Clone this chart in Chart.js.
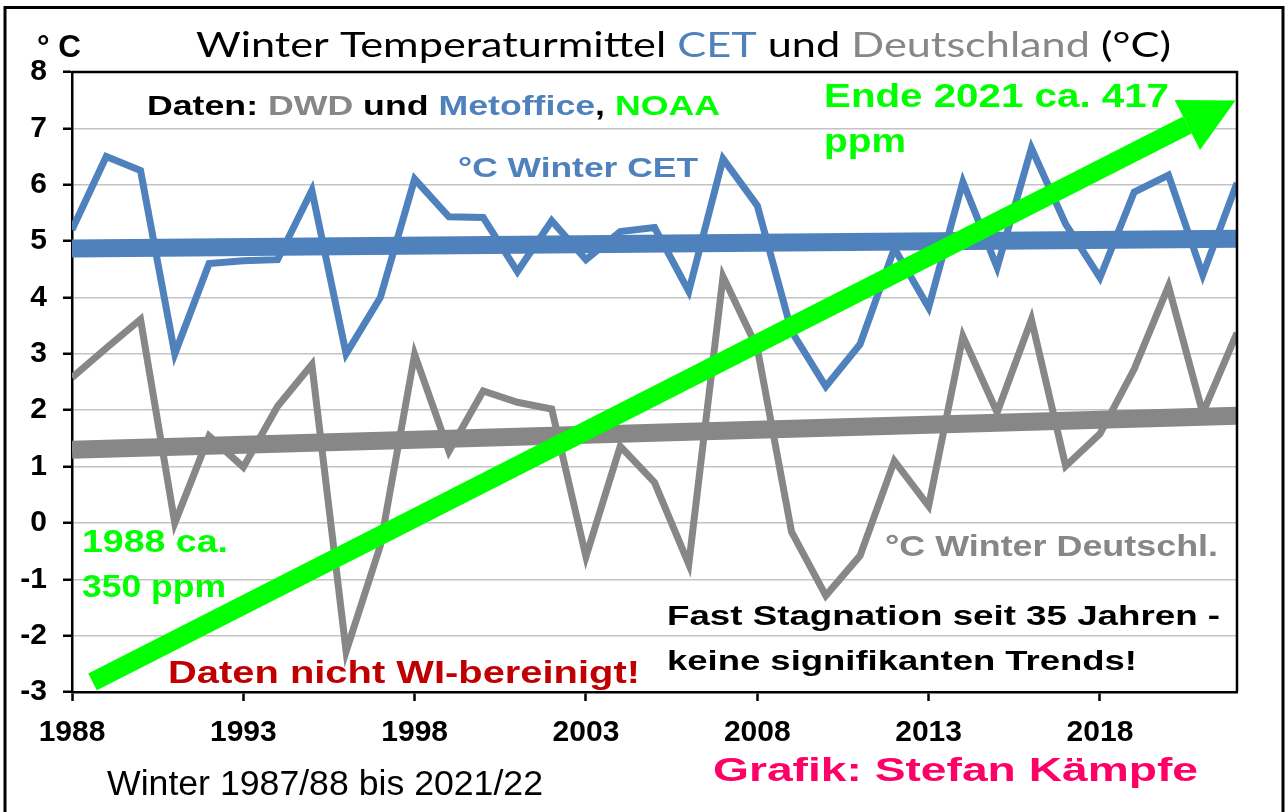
<!DOCTYPE html>
<html>
<head>
<meta charset="utf-8">
<script src="https://cdn.jsdelivr.net/npm/chart.js@4/dist/chart.umd.min.js"></script>
<style>
  html, body { margin: 0; padding: 0; background: #fff; }
  #wrap { width: 1288px; height: 812px; position: relative; }
</style>
</head>
<body>
<div id="wrap"><canvas id="chart"></canvas></div>
<script>
// Winter (DJF) Mittel, Jahr = Januar des Winters
const years = [1988, 1989, 1990, 1991, 1992, 1993, 1994, 1995, 1996, 1997,
  1998, 1999, 2000, 2001, 2002, 2003, 2004, 2005, 2006, 2007,
  2008, 2009, 2010, 2011, 2012, 2013, 2014, 2015, 2016, 2017,
  2018, 2019, 2020, 2021, 2022];
const cetWinter = [5.2, 6.5, 6.25, 3.0, 4.6, 4.65, 4.67, 5.9, 3.0, 4.0,
  6.1, 5.43, 5.42, 4.46, 5.36, 4.67, 5.17, 5.24, 4.11, 6.46,
  5.63, 3.4, 2.42, 3.17, 4.87, 3.82, 6.05, 4.53, 6.65, 5.3,
  4.35, 5.87, 6.17, 4.4, 6.03];
const dwdWinter = [2.58, 3.1, 3.61, 0.0, 1.54, 0.99, 2.07, 2.81, -2.28, -0.4,
  2.99, 1.27, 2.34, 2.14, 2.02, -0.6, 1.36, 0.72, -0.73, 4.37,
  3.1, -0.16, -1.29, -0.58, 1.1, 0.3, 3.31, 1.96, 3.61, 1.01,
  1.58, 2.73, 4.2, 1.95, 3.37];

// lineare Trends (Endpunkte)
const trendYears = [1988, 2022];
const cetTrend = [4.87, 5.04];
const dwdTrend = [1.3, 1.9];

// CO2-Pfeil (Schaft von / bis, in Achsenwerten)
const arrowYears = [1988.6, 2020.55];
const arrowVals = [-2.82, 7.06];

const xTickLabels = [1988, 1993, 1998, 2003, 2008, 2013, 2018];
const yMin = -3, yMax = 8;

const BLUE = '#4F81BD';
const GRAY = '#878787';
const GREEN = '#00FF00';
const ARIAL = '"Liberation Sans", Arial, sans-serif';

const pts = (xs, ys) => xs.map((x, i) => ({ x: x, y: ys[i] }));

// Text mit mehreren Farben, horizontal auf Zielbreite gestaucht/gestreckt
function drawFit(ctx, parts, x, base, font, width) {
  ctx.save();
  ctx.font = font;
  ctx.textAlign = 'left';
  ctx.textBaseline = 'alphabetic';
  const total = parts.reduce((s, p) => s + ctx.measureText(p[0]).width, 0);
  const k = width ? width / total : 1;
  ctx.translate(x, base);
  ctx.scale(k, 1);
  let cx = 0;
  for (const [t, c] of parts) {
    ctx.fillStyle = c;
    ctx.fillText(t, cx, 0);
    cx += ctx.measureText(t).width;
  }
  ctx.restore();
}

const decor = {
  id: 'decor',
  afterDatasetsDraw(chart) {
    // Pfeilspitze am Ende des gruenen Schafts
    const ctx = chart.ctx;
    const meta = chart.getDatasetMeta(0);
    const a = meta.data[0], b = meta.data[1];
    const ang = Math.atan2(b.y - a.y, b.x - a.x);
    const len = 54, half = 28;
    const c = Math.cos(ang), s = Math.sin(ang);
    ctx.save();
    ctx.fillStyle = GREEN;
    ctx.beginPath();
    ctx.moveTo(b.x + c * len, b.y + s * len);
    ctx.lineTo(b.x - s * half, b.y + c * half);
    ctx.lineTo(b.x + s * half, b.y - c * half);
    ctx.closePath();
    ctx.fill();
    ctx.restore();
  },
  afterDraw(chart) {
    const ctx = chart.ctx;
    const ca = chart.chartArea;
    ctx.save();
    // Rahmen Plotflaeche oben / rechts
    ctx.strokeStyle = '#000';
    ctx.lineWidth = 2.5;
    ctx.beginPath();
    ctx.moveTo(ca.left, ca.top);
    ctx.lineTo(ca.right, ca.top);
    ctx.lineTo(ca.right, ca.bottom);
    ctx.stroke();
    // aeusserer Rahmen
    ctx.lineWidth = 3;
    ctx.beginPath();
    ctx.moveTo(5, 820);
    ctx.lineTo(5, 7.5);
    ctx.lineTo(1283, 7.5);
    ctx.lineTo(1283, 820);
    ctx.stroke();
    ctx.restore();

    const B = (n) => `bold ${n}px ${ARIAL}`;
    drawFit(ctx, [['° C', '#000']], 37, 57, B(31), 44);
    drawFit(ctx, [['Winter Temperaturmittel ', '#000'], ['CET', BLUE], [' und ', '#000'],
      ['Deutschland', GRAY], [' (°C)', '#000']], 196, 57, '34px Lato, "Open Sans", sans-serif', 975);
    drawFit(ctx, [['Daten: ', '#000'], ['DWD', GRAY], [' und ', '#000'], ['Metoffice', BLUE],
      [', ', '#000'], ['NOAA', GREEN]], 147, 115, B(28), 573);
    drawFit(ctx, [['°C Winter CET', BLUE]], 458, 177, B(28), 240);
    drawFit(ctx, [['Ende 2021 ca. 417', GREEN]], 824, 107, B(33), 345);
    drawFit(ctx, [['ppm', GREEN]], 824, 152, B(33), 82);
    drawFit(ctx, [['1988 ca.', GREEN]], 82, 552, B(31), 146);
    drawFit(ctx, [['350 ppm', GREEN]], 82, 597, B(31), 144);
    drawFit(ctx, [['Daten nicht WI-bereinigt!', '#C00000']], 168, 683, B(32), 472);
    drawFit(ctx, [['Fast Stagnation seit 35 Jahren -', '#000']], 667, 625, B(28), 553);
    drawFit(ctx, [['keine signifikanten Trends!', '#000']], 667, 670, B(28), 470);
    drawFit(ctx, [['°C Winter Deutschl.', GRAY]], 885, 556, B(30), 333);
    drawFit(ctx, [['Winter 1987/88 bis 2021/22', '#000']], 107, 795, `35px ${ARIAL}`, 436);
    drawFit(ctx, [['Grafik: Stefan Kämpfe', '#FF0066']], 713, 781, B(34), 485);
  }
};

const chart = new Chart(document.getElementById('chart'), {
  type: 'line',
  data: {
    datasets: [
      {
        label: 'CO2',
        data: pts(arrowYears, arrowVals),
        borderColor: GREEN,
        borderWidth: 19,
        borderCapStyle: 'butt',
        pointRadius: 0,
        order: 0
      },
      {
        label: '°C Winter CET',
        data: pts(years, cetWinter),
        borderColor: BLUE,
        borderWidth: 7,
        pointRadius: 0,
        order: 1
      },
      {
        label: '°C Winter Deutschl.',
        data: pts(years, dwdWinter),
        borderColor: GRAY,
        borderWidth: 7,
        pointRadius: 0,
        order: 1
      },
      {
        label: 'Trend CET',
        data: pts(trendYears, cetTrend),
        borderColor: BLUE,
        borderWidth: 18,
        pointRadius: 0,
        order: 2
      },
      {
        label: 'Trend DWD',
        data: pts(trendYears, dwdTrend),
        borderColor: GRAY,
        borderWidth: 18,
        pointRadius: 0,
        order: 2
      }
    ]
  },
  options: {
    responsive: true,
    maintainAspectRatio: false,
    animation: false,
    events: [],
    layout: { padding: { top: 72, right: 51, left: 0, bottom: 0 } },
    plugins: {
      legend: { display: false },
      title: { display: false },
      tooltip: { enabled: false }
    },
    scales: {
      x: {
        type: 'linear',
        min: 1988,
        max: 2022,
        afterBuildTicks: s => { s.ticks = xTickLabels.map(v => ({ value: v })); },
        afterFit: s => { s.height = 120; },
        border: { color: '#000', width: 2.5 },
        grid: {
          drawOnChartArea: false,
          tickLength: 9,
          tickColor: '#000',
          tickWidth: 2.5
        },
        ticks: {
          autoSkip: false,
          maxRotation: 0,
          padding: 14,
          color: '#000',
          font: { family: ARIAL, size: 30, weight: 'bold' },
          callback: v => String(v)
        }
      },
      y: {
        min: yMin,
        max: yMax,
        afterFit: s => { s.width = 72; },
        border: { color: '#000', width: 2.5 },
        grid: {
          color: '#c3c3c3',
          lineWidth: 1.5,
          tickLength: 9,
          tickColor: '#000',
          tickWidth: 2.5
        },
        ticks: {
          stepSize: 1,
          padding: 16,
          color: '#000',
          font: { family: ARIAL, size: 30, weight: 'bold' }
        }
      }
    }
  },
  plugins: [decor]
});
</script>
</body>
</html>
